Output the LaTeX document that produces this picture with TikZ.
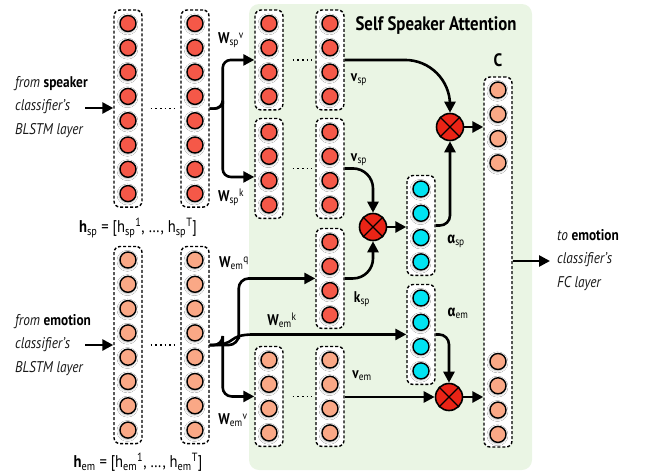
\documentclass[tikz,border=0pt]{standalone}
\usepackage{fontspec}
\setmainfont{PT Sans}[FakeStretch=0.86]
\newfontfamily\grk{Fira Sans}[FakeStretch=0.86]
\usetikzlibrary{arrows.meta,shadows.blur,calc}
\definecolor{spred}{RGB}{245,88,72}
\definecolor{emsal}{RGB}{250,168,134}
\definecolor{cyanN}{RGB}{0,228,242}
\definecolor{multred}{RGB}{234,36,22}
\definecolor{panelg}{RGB}{234,245,228}
\definecolor{txtgray}{RGB}{25,25,25}
\newcommand\mklayer[5]{%
  \pgfmathsetmacro\lyc{#3+(#4-1)*12.15}%
  \pgfmathsetmacro\lht{(#4-1)*24.3+27}%
  \node[layerbox, minimum height=\lht pt] (#1) at (#2,\lyc) {};%
  \foreach \i in {1,...,#4}{\node[neuron, fill=#5] (#1-\i) at (#2,{#3+(\i-1)*24.3}) {};}%
}
\begin{document}
\begin{tikzpicture}[x=1pt,y=-1pt,
  neuron/.style={circle, draw=black, line width=1.4pt, minimum size=16pt, inner sep=0pt,
    blur shadow={shadow xshift=-0.5pt, shadow yshift=-0.8pt, shadow scale=1.05, shadow blur radius=2pt, shadow opacity=28}},
  layerbox/.style={draw=black, dash pattern=on 3pt off 2pt, line width=1.4pt, rounded corners=6pt, fill=white, minimum width=28pt, inner sep=0pt},
  mult/.style={circle, draw=black, line width=1.6pt, fill=multred, minimum size=27pt, inner sep=0pt},
  xline/.style={line width=1.3pt},
  arr/.style={line width=2.6pt, -{Triangle[length=11pt,width=11pt]}},
  dots/.style={line width=1.5pt, dash pattern=on 1.6pt off 3pt},
  panelbg/.style={fill=panelg, rounded corners=10pt, minimum width=283pt, minimum height=466pt, inner sep=0pt},
  txt/.style={font=\fontsize{15.5}{23.5}\selectfont, inner sep=0pt, text=txtgray},
  lbl/.style={font=\fontsize{15.5}{18}\selectfont, inner sep=0pt},
  title/.style={font=\fontsize{19.5}{21}\selectfont\bfseries, inner sep=0pt}
]
\useasboundingbox (0,0) rectangle (651,474);
\node[panelbg] (panel) at (390.5,237) {};
\node[title] (ttl) at (436,25) {Self Speaker Attention};

\mklayer{S1}{128}{23.5}{8}{spred}
\mklayer{S2}{195}{23.5}{8}{spred}
\mklayer{E1}{128}{260}{8}{emsal}
\mklayer{E2}{195}{260}{8}{emsal}
\mklayer{QA}{269}{23.5}{4}{spred}
\mklayer{QB}{330}{23.5}{4}{spred}
\mklayer{KA}{269}{132}{4}{spred}
\mklayer{KB}{330}{132}{4}{spred}
\mklayer{KS}{330}{242}{4}{spred}
\mklayer{VA}{269}{360}{4}{emsal}
\mklayer{VB}{330}{360}{4}{emsal}
\mklayer{AS}{421}{189}{4}{cyanN}
\mklayer{AE}{421}{298}{4}{cyanN}

\node[layerbox, minimum height=370pt] (C) at (498,262) {};
\foreach \i in {1,...,4}{
  \node[neuron, fill=emsal] (C-\i) at (498,{90+(\i-1)*24.3}) {};
  \node[neuron, fill=emsal] (Cb-\i) at (498,{361.5+(\i-1)*24.3}) {};
}
\node[lbl, font=\fontsize{18}{19}\selectfont\bfseries] (Clbl) at (498,60) {C};

% multiply nodes
\foreach \n/\p in {M1/{(450,127)}, M2/{(373,227)}, M3/{(449,397)}}{
  \node[mult] (\n) at \p {};
  \draw[xline] (\n.45) -- (\n.225) (\n.135) -- (\n.-45);
}

% dotted separators
\draw[dots, shorten <=8pt, shorten >=6pt] (S1) -- (S2);
\draw[dots, shorten <=8pt, shorten >=6pt] (E1) -- (E2);
\draw[dots, shorten <=9pt, shorten >=4pt] (QA) -- (QB);
\draw[dots, shorten <=9pt, shorten >=4pt] (KA) -- (KB);
\draw[dots, shorten <=9pt, shorten >=4pt] (VA) -- (VB);

% input / output texts
\node[txt, anchor=west, align=left] (inSp) at (15,107) {\textit{from} \textbf{\color{black}speaker}\\\textit{classifier’s}\\\textit{BLSTM layer}};
\node[txt, anchor=west, align=left] (inEm) at (15,345) {\textit{from} \textbf{\color{black}emotion}\\\textit{classifier’s}\\\textit{BLSTM layer}};
\node[txt, anchor=west, align=left] (outEm) at (557,260) {\textit{to} \textbf{\color{black}emotion}\\\textit{classifier’s}\\\textit{FC layer}};
\coordinate (inS) at (85,108);
\coordinate (inE) at (85,345);
\coordinate (outC) at (550,261);
\draw[arr] (inS) -- (S1.west |- inS);
\draw[arr] (inE) -- (E1.west |- inE);
\draw[arr] (C.east |- outC) -- (outC);

% h labels
\node[lbl, font=\fontsize{17}{18}\selectfont] (hsp) at (138,228) {\textbf{h}\textsubscript{sp} = [h\textsubscript{sp}\textsuperscript{1}, …, h\textsubscript{sp}\textsuperscript{T}]};
\node[lbl, font=\fontsize{17}{18}\selectfont] (hem) at (138,462) {\textbf{h}\textsubscript{em} = [h\textsubscript{em}\textsuperscript{1}, …, h\textsubscript{em}\textsuperscript{T}]};

% weight labels
\node[lbl] (wspv) at (231,40) {\textbf{W}\textsubscript{sp}\textsuperscript{v}};
\node[lbl] (wspk) at (231,197) {\textbf{W}\textsubscript{sp}\textsuperscript{k}};
\node[lbl] (wemq) at (234,263) {\textbf{W}\textsubscript{em}\textsuperscript{q}};
\node[lbl] (wemk) at (282,320) {\textbf{W}\textsubscript{em}\textsuperscript{k}};
\node[lbl] (wemv) at (233,420) {\textbf{W}\textsubscript{em}\textsuperscript{v}};
\node[lbl] (vsp1) at (359,80) {\textbf{v}\textsubscript{sp}};
\node[lbl] (vsp2) at (359,160) {\textbf{v}\textsubscript{sp}};
\node[lbl] (ksp) at (362,299) {\textbf{k}\textsubscript{sp}};
\node[lbl] (vem) at (362,376) {\textbf{v}\textsubscript{em}};
\node[lbl] (asp) at (456,241) {{\grk\bfseries α}\textsubscript{sp}};
\node[lbl] (aem) at (458,313) {{\grk\bfseries α}\textsubscript{em}};

% speaker brace
\draw[arr, rounded corners=8pt] (S2.east) -| ($(S2.east)+(13,0)$) |- (QA.west);
\draw[arr, rounded corners=8pt] (S2.east) -| ($(S2.east)+(13,0)$) |- ($(KA.west)+(0,8.5)$);

% emotion branches
\draw[arr, rounded corners=10pt] (E2.east) -| ($(E2.east)+(29,0)$) |- (KS.west);
\draw[arr, rounded corners=9pt] (E2.east) -| ($(E2.east)+(13,0)$) |- (VA.west);
\draw[arr] (E2.east) .. controls ($(E2.east)+(30,0)$) and ($(AE.west -| E2.east)+(15,0)$) .. ($(AE.west -| E2.east)+(45,0)$) -- (AE.west);

% attention arrows
\draw[arr, rounded corners=45pt] (QB.east) -| (M1.north);
\draw[arr, rounded corners=10pt] (AS.east) -| (M1.south);
\draw[arr, rounded corners=20pt] (KB.east) -| (M2.north);
\draw[arr, rounded corners=20pt] (KS.east) -| (M2.south);
\draw[arr] (M2.east) -- (M2.east -| AS.west);
\draw[arr, rounded corners=10pt] (AE.east) -| (M3.north);
\draw[arr] (VB.east |- M3) -- (M3.west);
\draw[arr] (M1.east) -- (M1.east -| C.west);
\draw[arr] (M3.east) -- (M3.east -| C.west);
\end{tikzpicture}
\end{document}
